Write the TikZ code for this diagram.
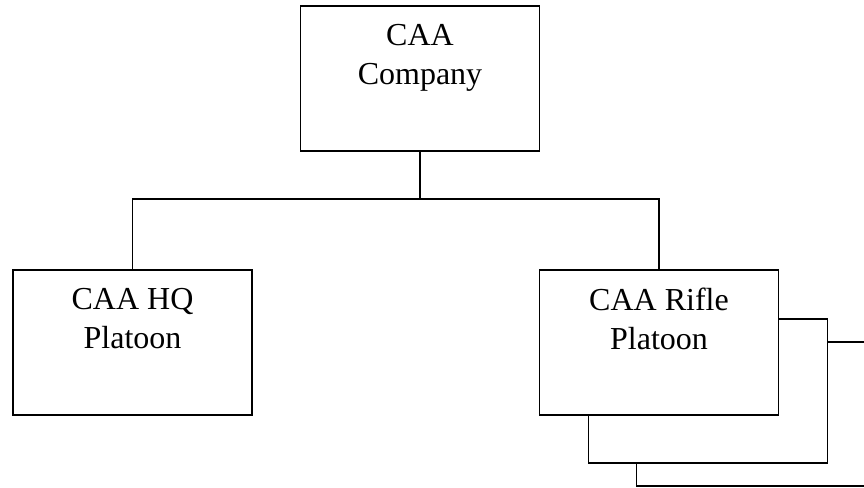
\documentclass[tikz,border=0pt]{standalone}
\usepackage{fontspec}
\setmainfont{Liberation Serif}
\begin{document}
\begin{tikzpicture}[x=1pt,y=-1pt,
  orgbox/.style={draw=black, fill=white, line width=1.5pt, minimum width=239pt, minimum height=145pt, inner sep=0pt, outer sep=0pt},
  backbox/.style={orgbox, minimum height=144pt},
  boxtext/.style={anchor=north, align=center, inner sep=0pt, font=\fontsize{32}{39}\selectfont, yshift=-18pt},
  conn/.style={line width=1.5pt}]
\useasboundingbox (0,0) rectangle (864,487);
\clip (0,0) rectangle (864,487);
% stacked back boxes
\node[backbox] (rifleC) at (756,414) {};
\node[backbox] (rifleB) at (708,391) {};
% main boxes
\node[orgbox] (top) at (420,78.5) {};
\node[boxtext] (topT) at (top.north) {CAA\\Company};
\node[orgbox] (hq) at (132.5,342.5) {};
\node[boxtext] (hqT) at (hq.north) {CAA HQ\\Platoon};
\node[orgbox] (rifle) at (659,342.5) {};
\node[boxtext] (rifleT) at (rifle.north) {CAA Rifle\\Platoon};
% connectors
\coordinate (j) at (420,199);
\draw[conn] (top.south) -- (j);
\draw[conn] (hq.north) |- (j) -| (rifle.north);
\end{tikzpicture}
\end{document}
